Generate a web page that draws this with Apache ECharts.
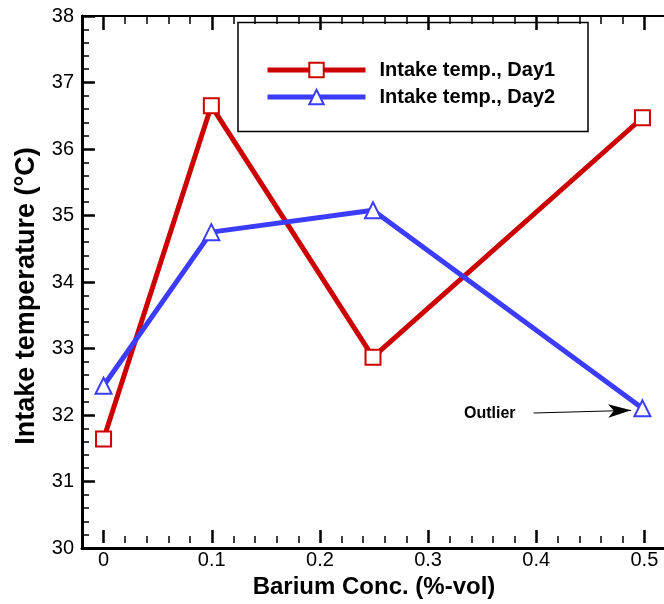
<!DOCTYPE html>
<html>
<head>
<meta charset="utf-8">
<script src="https://cdn.jsdelivr.net/npm/echarts@6/dist/echarts.min.js"></script>
<style>
html,body{margin:0;padding:0;background:#fff;}
#c{width:664px;height:604px;}
</style>
</head>
<body>
<div id="c"></div>
<script>
var xValues = [0, 0.1, 0.25, 0.5];
var day1 = [31.64, 36.65, 32.87, 36.47];
var day2 = [32.44, 34.75, 35.08, 32.10];
var seriesNames = ['Intake temp., Day1', 'Intake temp., Day2'];
var xTitle = 'Barium Conc. (%-vol)';
var yTitle = 'Intake temperature (°C)';
var outlierLabel = 'Outlier';
var outlierArrow = [[0.399, 32.03], [0.4895, 32.07]];

var FONT = 'Arial, "Liberation Sans", sans-serif';
var chart = echarts.init(document.getElementById('c'), null, {renderer: 'canvas'});

function pairs(xs, ys) { return xs.map(function (x, i) { return [x, ys[i]]; }); }

var tickInside = function (len, w) {
  return {show: true, inside: true, length: len, lineStyle: {color: '#000', width: w}};
};

var option = {
  backgroundColor: '#fff',
  animation: false,
  grid: [
    {left: 82, top: 16, width: 584, height: 532, containLabel: false},
    {left: 103.6, top: 16, width: 540.8, height: 532, containLabel: false}
  ],
  xAxis: [
    {gridIndex: 0, type: 'value', min: -0.02, max: 0.52, position: 'bottom',
     axisLine: {show: true, onZero: false, lineStyle: {color: '#000', width: 3}},
     axisTick: {show: false}, axisLabel: {show: false}, splitLine: {show: false}},
    {gridIndex: 0, type: 'value', min: -0.02, max: 0.52, position: 'top',
     axisLine: {show: true, onZero: false, lineStyle: {color: '#000', width: 2}},
     axisTick: {show: false}, axisLabel: {show: false}, splitLine: {show: false}},
    {gridIndex: 1, type: 'value', min: 0, max: 0.5, interval: 0.1, position: 'bottom',
     axisLine: {show: false, onZero: false},
     axisTick: tickInside(13, 2.5),
     minorTick: {show: true, splitNumber: 5, length: 7, lineStyle: {color: '#000', width: 1.5}},
     axisLabel: {show: true, margin: 7, color: '#000', fontSize: 20, fontFamily: FONT},
     splitLine: {show: false},
     name: xTitle, nameLocation: 'middle', nameGap: 24,
     nameTextStyle: {color: '#000', fontSize: 24, fontWeight: 'bold', fontFamily: FONT}},
    {gridIndex: 1, type: 'value', min: 0, max: 0.5, interval: 0.1, position: 'top',
     axisLine: {show: false, onZero: false},
     axisTick: tickInside(14, 2.5),
     minorTick: {show: true, splitNumber: 5, length: 8, lineStyle: {color: '#000', width: 1.5}},
     axisLabel: {show: false}, splitLine: {show: false}}
  ],
  yAxis: [
    {gridIndex: 0, type: 'value', min: 30, max: 38, interval: 1, position: 'left',
     axisLine: {show: true, onZero: false, lineStyle: {color: '#000', width: 3}},
     axisTick: tickInside(13, 2.5),
     minorTick: {show: true, splitNumber: 5, length: 7, lineStyle: {color: '#000', width: 1.5}},
     axisLabel: {show: true, margin: 8, color: '#000', fontSize: 20, fontFamily: FONT},
     splitLine: {show: false}},
    {gridIndex: 1, type: 'value', min: 30, max: 38, show: false}
  ],
  legend: {
    show: true, orient: 'vertical', left: 265, top: 60, padding: 0,
    itemWidth: 98, itemHeight: 18, itemGap: 7,
    data: seriesNames,
    lineStyle: {width: 5},
    textStyle: {color: '#000', fontSize: 20, fontWeight: 'bold', fontFamily: FONT, padding: [0, 0, 0, 9]}
  },
  graphic: [
    {type: 'rect', z: 0, shape: {x: 238, y: 22.5, width: 350, height: 109},
     style: {fill: 'none', stroke: '#000', lineWidth: 1.5}},
    {type: 'text', x: 27, y: 296, rotation: Math.PI / 2,
     style: {text: yTitle, fill: '#000', font: 'bold 27px ' + FONT, textAlign: 'center', textVerticalAlign: 'middle'}}
  ],
  series: [
    {name: seriesNames[0], type: 'line', xAxisIndex: 0, yAxisIndex: 0,
     data: pairs(xValues, day1), symbol: 'emptyRect', symbolSize: 15,
     lineStyle: {color: '#cc0000', width: 5}, itemStyle: {color: '#cc0000', borderWidth: 2},
     clip: false},
    {name: seriesNames[1], type: 'line', xAxisIndex: 0, yAxisIndex: 0,
     data: pairs(xValues, day2), symbol: 'emptyTriangle', symbolSize: 16,
     lineStyle: {color: '#3c3cff', width: 5}, itemStyle: {color: '#3c3cff', borderWidth: 2},
     clip: false,
     markLine: {
       silent: true, symbol: ['none', 'arrow'], symbolSize: [10, 23],
       lineStyle: {color: '#000', width: 1, type: 'solid'},
       label: {show: true, position: 'start', distance: 18, formatter: outlierLabel,
               color: '#000', fontSize: 16, fontWeight: 'bold', fontFamily: FONT},
       data: [[{coord: outlierArrow[0]}, {coord: outlierArrow[1]}]]
     }}
  ]
};
chart.setOption(option);
</script>
</body>
</html>
